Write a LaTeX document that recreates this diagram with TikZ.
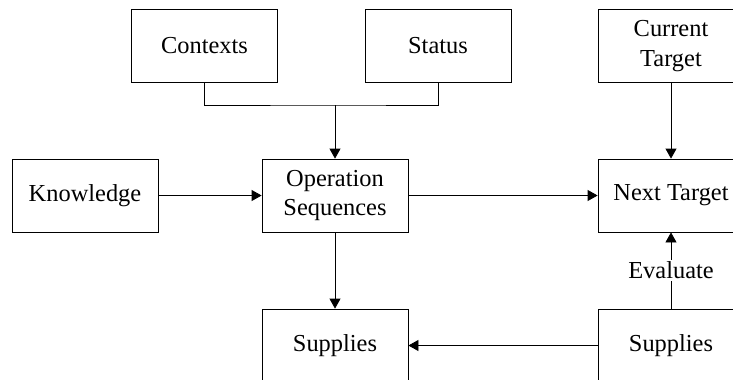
\documentclass[tikz,border=0pt]{standalone}
\usepackage{fontspec}
\setmainfont{Liberation Serif}
\usetikzlibrary{arrows.meta}
\begin{document}
\begin{tikzpicture}[x=1bp,y=-1bp,
  box/.style={draw, line width=0.8bp, minimum width=146bp, minimum height=73bp,
    inner sep=0pt, align=center, font=\fontsize{24.5}{30}\selectfont},
  conn/.style={line width=0.8bp},
  arr/.style={conn, -{Triangle[length=10bp,width=11bp]}},
  lbl/.style={fill=white, inner sep=2bp, font=\fontsize{24.5}{30}\selectfont}]
\useasboundingbox (0,0) rectangle (733,379);
\node[box] (ctx) at (204.5,46) {Contexts};
\node[box] (st) at (438,46) {Status};
\node[box] (ct) at (671,46) {Current\\Target};
\node[box] (kn) at (85,195.5) {Knowledge};
\node[box] (op) at (335,195.5) {Operation\\Sequences};
\node[box] (nt) at (671,195.5) {Next Target};
\node[box] (sl) at (335,345.5) {Supplies};
\node[box] (sr) at (671,345.5) {Supplies};
\coordinate (j) at (335,105);
\draw[conn] (ctx.south) |- (j) -| (st.south);
\draw[arr] (j) -- (op.north);
\draw[arr] (kn.east) -- (op.west);
\draw[arr] (op.east) -- (nt.west);
\draw[arr] (ct.south) -- (nt.north);
\draw[arr] (op.south) -- (sl.north);
\draw[arr] (sr.west) -- (sl.east);
\draw[arr] (sr.north) -- node[lbl, pos=0.5] {Evaluate} (nt.south);
\end{tikzpicture}
\end{document}
